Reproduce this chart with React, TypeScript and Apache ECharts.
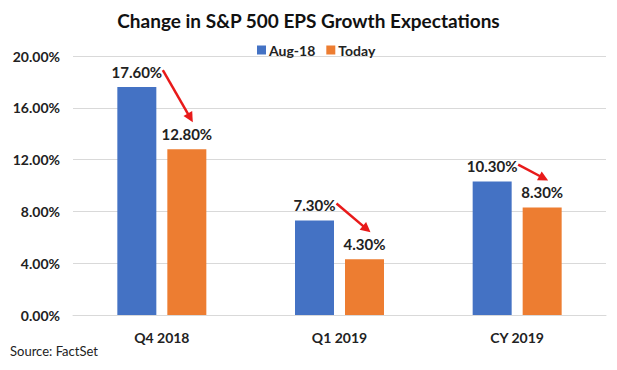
import React, { useEffect, useRef } from "react";
import * as echarts from "echarts";

const categories = ["Q4 2018", "Q1 2019", "CY 2019"];
const seriesNames = ["Aug-18", "Today"];
const aug18 = [17.6, 7.3, 10.3];
const today = [12.8, 4.3, 8.3];
const yTicks = [0, 4, 8, 12, 16, 20];

const BLUE = "#4472C4";
const ORANGE = "#ED7D31";
const RED = "#E81A1A";
const FONT = "Lato, 'Open Sans', sans-serif";
const BAR_W = 39;
const BAR_GAP = 11;

export default function App() {
  const ref = useRef<HTMLDivElement>(null);
  useEffect(() => {
    if (!ref.current) return;
    const chart = echarts.init(ref.current, undefined, { renderer: "svg" });
    const fmt = (v: number) => v.toFixed(2) + "%";
    const arrowData = categories.map((_, i) => [i, aug18[i], today[i]]);
    chart.setOption({
      animation: false,
      backgroundColor: "#ffffff",
      title: {
        text: "Change in S&P 500 EPS Growth Expectations",
        left: "center",
        top: 6,
        textStyle: { fontFamily: FONT, fontWeight: "bold", fontSize: 19, color: "#111" },
      },
      legend: {
        data: seriesNames,
        top: 38,
        left: 252,
        itemWidth: 9,
        itemHeight: 9,
        itemGap: 11,
        icon: "rect",
        textStyle: { fontFamily: FONT, fontWeight: "bold", fontSize: 14, color: "#222", padding: [0, 0, 0, -2] },
      },
      grid: { left: 73, right: 11, top: 56, bottom: 55, containLabel: false },
      xAxis: {
        type: "category",
        data: categories,
        axisLine: { show: true, lineStyle: { color: "#d9d9d9", width: 1 } },
        axisTick: { show: false },
        axisLabel: { fontFamily: FONT, fontWeight: "bold", fontSize: 14, color: "#222", margin: 15 },
      },
      yAxis: {
        type: "value",
        min: yTicks[0],
        max: yTicks[yTicks.length - 1],
        interval: yTicks[1] - yTicks[0],
        axisLine: { show: false },
        axisTick: { show: false },
        splitLine: { lineStyle: { color: "#d9d9d9", width: 1 } },
        axisLabel: {
          formatter: (v: number) => v.toFixed(2) + "%",
          fontFamily: FONT,
          fontWeight: "bold",
          fontSize: 14,
          color: "#222",
          margin: 13,
        },
      },
      series: [
        {
          name: seriesNames[0],
          type: "bar",
          data: aug18,
          barWidth: BAR_W,
          barGap: (BAR_GAP / BAR_W) * 100 + "%",
          itemStyle: { color: BLUE },
          label: {
            show: true,
            position: "top",
            distance: 8,
            formatter: (p: any) => fmt(p.value),
            fontFamily: FONT,
            fontWeight: "bold",
            fontSize: 15,
            color: "#222",
          },
        },
        {
          name: seriesNames[1],
          type: "bar",
          data: today,
          barWidth: BAR_W,
          itemStyle: { color: ORANGE },
          label: {
            show: true,
            position: "top",
            distance: 8,
            formatter: (p: any) => fmt(p.value),
            fontFamily: FONT,
            fontWeight: "bold",
            fontSize: 15,
            color: "#222",
          },
        },
        {
          name: "arrows",
          type: "custom",
          silent: true,
          z: 10,
          data: arrowData,
          encode: { x: 0, y: [1, 2] },
          renderItem: (params: any, api: any) => {
            const i = api.value(0);
            const b = api.value(1);
            const o = api.value(2);
            const [cx, by] = api.coord([i, b]);
            const oy = api.coord([i, o])[1];
            const off = (BAR_W + BAR_GAP) / 2;
            const labelW = fmt(b).length * 8;
            const sx = cx - off + labelW / 2 + 2;
            const sy = by - 17;
            const ex = cx + off + 6;
            const ey = oy - 27;
            const dx = ex - sx;
            const dy = ey - sy;
            const len = Math.sqrt(dx * dx + dy * dy);
            const ux = dx / len;
            const uy = dy / len;
            const head = 10;
            const hw = 5;
            const bx = ex - ux * head;
            const byy = ey - uy * head;
            return {
              type: "group",
              children: [
                {
                  type: "line",
                  shape: { x1: sx, y1: sy, x2: ex - ux * (head - 2), y2: ey - uy * (head - 2) },
                  style: { stroke: RED, lineWidth: 2.5 },
                },
                {
                  type: "polygon",
                  shape: {
                    points: [
                      [ex, ey],
                      [bx - uy * hw, byy + ux * hw],
                      [bx + uy * hw, byy - ux * hw],
                    ],
                  },
                  style: { fill: RED },
                },
              ],
            };
          },
        },
      ],
      graphic: [
        {
          type: "text",
          left: 10,
          top: 344,
          style: { text: "Source: FactSet", fontFamily: FONT, fontSize: 13, fill: "#222" },
        },
      ],
    });
    return () => chart.dispose();
  }, []);
  return (
    <div
      ref={ref}
      style={{ position: "fixed", left: 0, top: 0, width: 617, height: 370, background: "#fff" }}
    />
  );
}
